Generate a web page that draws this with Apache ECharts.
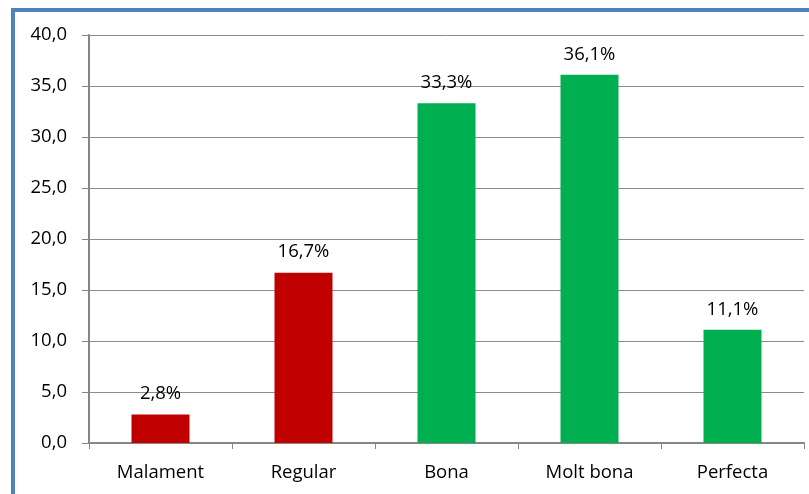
<!DOCTYPE html>
<html>
<head>
<meta charset="utf-8">
<script src="https://cdn.jsdelivr.net/npm/echarts@6/dist/echarts.min.js"></script>
<style>
  html, body { margin: 0; padding: 0; background: #fff; }
  #chart { width: 809px; height: 494px; }
</style>
</head>
<body>
<div id="chart"></div>
<script>
const categories = ['Malament', 'Regular', 'Bona', 'Molt bona', 'Perfecta'];
const values = [2.8, 16.7, 33.3, 36.1, 11.1];
const barColors = ['#C00000', '#C00000', '#00B050', '#00B050', '#00B050'];

const fmt = v => v.toFixed(1).replace('.', ',');
const font = '"Open Sans", "Noto Sans", sans-serif';

const myChart = echarts.init(document.getElementById('chart'));
myChart.setOption({
  animation: false,
  graphic: [{
    type: 'rect',
    shape: { x: 13, y: 10, width: 820, height: 510 },
    style: { fill: 'none', stroke: '#4F81BD', lineWidth: 4 },
    silent: true
  }],
  grid: { left: 89, right: 5, top: 35, bottom: 51 },
  xAxis: {
    type: 'category',
    data: categories,
    axisLine: { lineStyle: { color: '#868686', width: 2 } },
    axisTick: { show: true, length: 6, lineStyle: { color: '#868686', width: 1 } },
    axisLabel: { color: '#000', fontFamily: font, fontSize: 18.5, margin: 20 }
  },
  yAxis: {
    type: 'value',
    min: 0,
    max: 40,
    interval: 5,
    axisLine: { show: true, lineStyle: { color: '#868686', width: 2 } },
    axisTick: { show: true, length: 7, lineStyle: { color: '#868686' } },
    splitLine: { lineStyle: { color: '#8C8C8C', width: 1 } },
    axisLabel: { color: '#000', fontFamily: font, fontSize: 18.5, margin: 22, formatter: fmt }
  },
  series: [{
    type: 'bar',
    barWidth: 58,
    data: values.map((v, i) => ({ value: v, itemStyle: { color: barColors[i] } })),
    label: {
      show: true,
      position: 'top',
      distance: 11,
      color: '#000',
      fontFamily: font,
      fontSize: 18.5,
      formatter: p => fmt(p.value) + '%'
    }
  }]
});
</script>
</body>
</html>
